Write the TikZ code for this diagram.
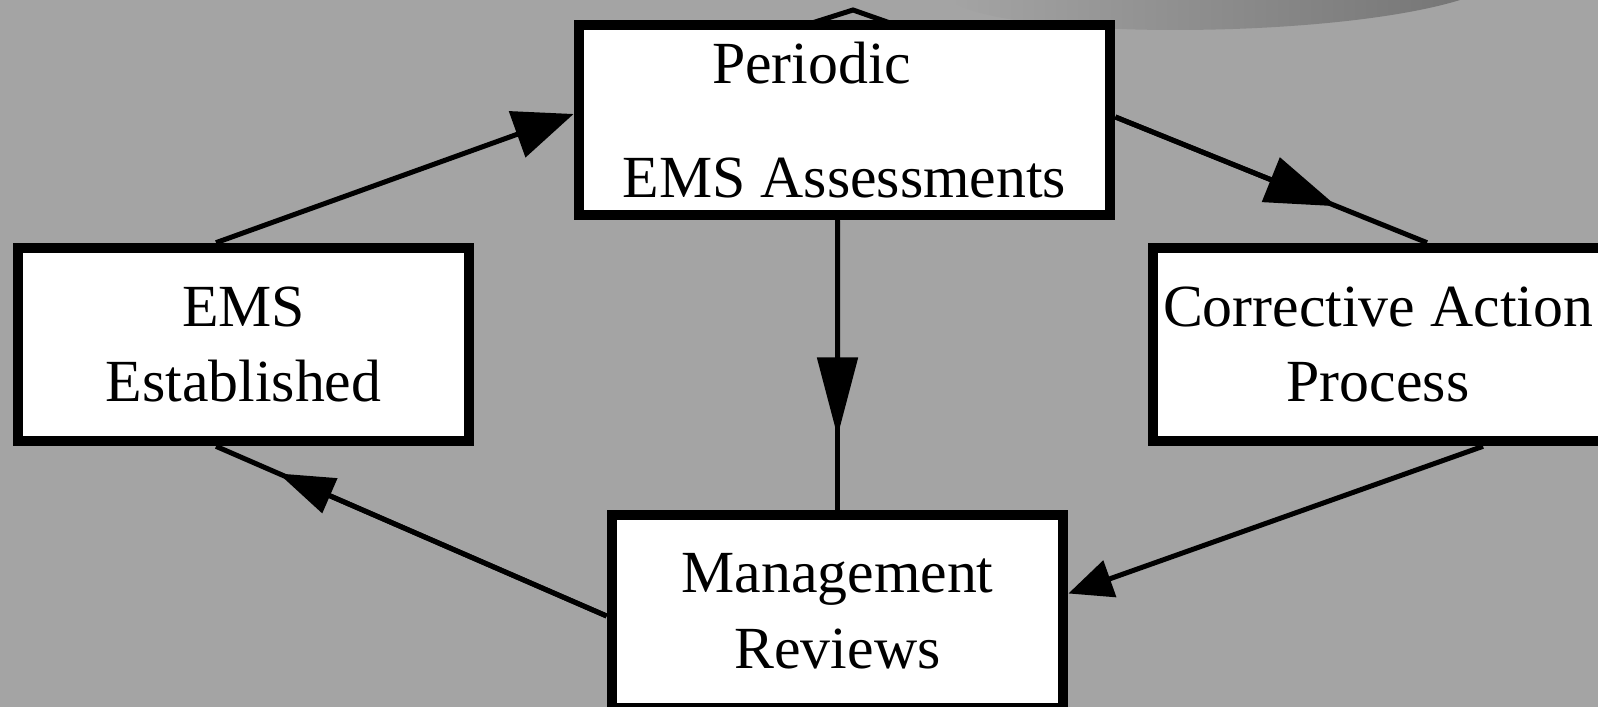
\documentclass[tikz,border=0pt]{standalone}
\usepackage{fontspec}
\setmainfont{Liberation Serif}
\usetikzlibrary{arrows.meta,calc}
\definecolor{bggray}{RGB}{164,164,164}
\definecolor{swoosh}{RGB}{118,118,118}

\begin{document}
\begin{tikzpicture}[x=0.01cm,y=-0.01cm,
	box/.style={draw,line width=0.105cm,fill=white,minimum width=4.51cm,minimum height=1.93cm,inner sep=0pt,align=center,font=\fontsize{17}{21.6}\selectfont},
	conn/.style={line width=0.05cm}]
	\useasboundingbox (0,0) rectangle (1598,707);
	\fill[bggray] (0,0) rectangle (1598,707);
	\shade[left color=bggray,right color=swoosh] (950,0) .. controls (1000,40) and (1330,40) .. (1460,0) -- cycle;
	\draw[conn] (790,30) -- (853,10) -- (910,30);

	\node[box,minimum width=5.31cm,minimum height=1.9cm](periodic) at (844.5,120) {Periodic\hspace*{1.1em}\\[11pt]EMS Assessments};
	\node[box](ems_est) at (243.5,344.5) {EMS\\Established};
	\node[box,minimum width=4.5cm](corrective) at (1378,344.5) {Corrective Action\\Process};
	\node[box](mgmt_rev) at (837.5,611.5) {Management\\Reviews};

	\coordinate (pc_a) at ($(periodic.east)+(0,-3)$);
	\coordinate (pc_b) at ($(corrective.north)+(49,0)$);
	\coordinate (me_a) at ($(mgmt_rev.west)+(0,4.5)$);
	\coordinate (me_b) at ($(ems_est.south)+(-27.5,0)$);

	\draw[conn,-{Triangle[length=0.6cm,width=0.48cm]}] ($(ems_est.north)+(-27.5,0)$) -- ($(periodic.west)+(0,-6)$);
	\draw[conn] (pc_a) -- (pc_b);
	\draw[conn,-{Triangle[length=0.71cm,width=0.47cm]}] (pc_a) -- ($(pc_a)!0.71!(pc_b)$);
	\draw[conn] (periodic.south -| mgmt_rev.north) -- (mgmt_rev.north);
	\draw[conn,-{Triangle[length=0.79cm,width=0.4cm]}] (periodic.south -| mgmt_rev.north) -- ($(periodic.south -| mgmt_rev.north)!0.747!(mgmt_rev.north)$);
	\draw[conn,-{Triangle[length=0.44cm,width=0.38cm]}] ($(corrective.south)+(105,0)$) -- ($(mgmt_rev.east)+(0,-18)$);
	\draw[conn] (me_a) -- (me_b);
	\draw[conn,-{Triangle[length=0.56cm,width=0.37cm]}] (me_a) -- ($(me_a)!0.84!(me_b)$);
\end{tikzpicture}
\end{document}
